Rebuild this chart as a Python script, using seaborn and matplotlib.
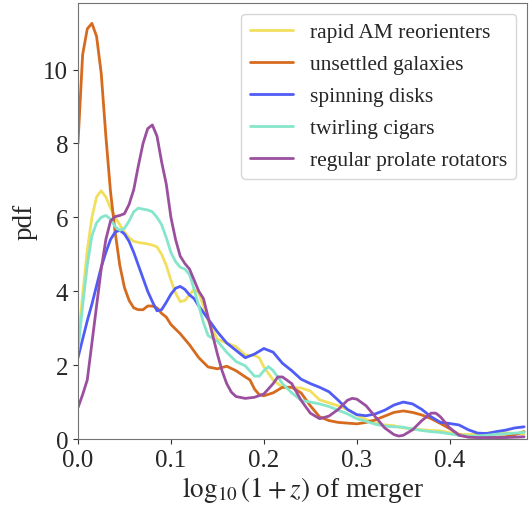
import numpy as np
import pandas as pd
import matplotlib
matplotlib.use("Agg")
import matplotlib.pyplot as plt
import seaborn as sns

# ---------------------------------------------------------------------------
# Data
# ---------------------------------------------------------------------------

CLASSES = [
    "rapid AM reorienters",
    "unsettled galaxies",
    "spinning disks",
    "twirling cigars",
    "regular prolate rotators",
]
COLORS = ["#f2df5e", "#d66b1f", "#4f5cf6", "#86e6cb", "#9b4f9f"]

x_yellow = [0, 0.005, 0.01, 0.015, 0.02, 0.025, 0.03, 0.035, 0.04, 0.045, 0.05, 0.055,
            0.06, 0.065, 0.07, 0.075, 0.08, 0.085, 0.09, 0.095, 0.10, 0.105, 0.11, 0.115,
            0.12, 0.125, 0.13, 0.135, 0.14, 0.15, 0.16, 0.17, 0.18, 0.19, 0.195, 0.20,
            0.21, 0.22, 0.23, 0.24, 0.25, 0.26, 0.27, 0.28, 0.29, 0.30, 0.31, 0.32, 0.33,
            0.34, 0.35, 0.36, 0.37, 0.38, 0.39, 0.40, 0.41, 0.42, 0.43, 0.44, 0.45, 0.46,
            0.47, 0.48]
pdf_yellow = [2.6, 3.9, 5.1, 6.0, 6.55, 6.72, 6.55, 6.25, 6.0, 5.8, 5.6, 5.45,
              5.35, 5.32, 5.3, 5.28, 5.25, 5.2, 5.0, 4.7, 4.3, 3.95, 3.72, 3.75,
              3.9, 4.05, 3.95, 3.6, 3.2, 2.7, 2.6, 2.5, 2.27, 2.26, 2.2, 1.95,
              1.6, 1.4, 1.4, 1.38, 1.3, 1.06, 0.98, 0.9, 0.8, 0.65, 0.53, 0.44, 0.38,
              0.36, 0.3, 0.27, 0.25, 0.23, 0.22, 0.17, 0.12, 0.12, 0.13, 0.16, 0.18, 0.17,
              0.15, 0.13]

x_orange = [0, 0.005, 0.01, 0.015, 0.02, 0.025, 0.03, 0.035, 0.04, 0.045, 0.05, 0.055,
            0.06, 0.065, 0.07, 0.075, 0.08, 0.085, 0.09, 0.095, 0.10, 0.11, 0.12, 0.13,
            0.14, 0.15, 0.16, 0.17, 0.18, 0.185, 0.19, 0.195, 0.20, 0.21, 0.22, 0.23,
            0.24, 0.25, 0.255, 0.26, 0.27, 0.28, 0.29, 0.30, 0.31, 0.32, 0.33, 0.34, 0.35,
            0.36, 0.37, 0.38, 0.39, 0.40, 0.41, 0.42, 0.43, 0.44, 0.45, 0.46, 0.47, 0.48]
pdf_orange = [8.0, 10.4, 11.1, 11.25, 10.9, 9.9, 8.2, 6.7, 5.6, 4.7, 4.1, 3.75,
              3.55, 3.5, 3.5, 3.6, 3.6, 3.55, 3.4, 3.3, 3.1, 2.85, 2.55, 2.2,
              1.95, 1.9, 1.97, 1.85, 1.68, 1.6, 1.35, 1.2, 1.17, 1.25, 1.4, 1.4,
              1.25, 0.9, 0.75, 0.6, 0.5, 0.45, 0.43, 0.41, 0.45, 0.52, 0.62, 0.72, 0.76,
              0.72, 0.65, 0.55, 0.42, 0.28, 0.12, 0.06, 0.05, 0.05, 0.05, 0.06, 0.12, 0.2]

x_blue = [0, 0.005, 0.01, 0.015, 0.02, 0.025, 0.03, 0.035, 0.04, 0.045, 0.05, 0.055,
          0.06, 0.065, 0.07, 0.075, 0.08, 0.085, 0.09, 0.095, 0.10, 0.105, 0.11, 0.115,
          0.12, 0.125, 0.13, 0.14, 0.15, 0.16, 0.17, 0.18, 0.19, 0.20, 0.21, 0.22,
          0.23, 0.24, 0.25, 0.26, 0.27, 0.28, 0.29, 0.30, 0.31, 0.32, 0.33, 0.34, 0.35,
          0.36, 0.37, 0.38, 0.39, 0.40, 0.41, 0.42, 0.43, 0.44, 0.45, 0.46, 0.47, 0.48]
pdf_blue = [2.2, 2.7, 3.2, 3.65, 4.15, 4.65, 5.05, 5.4, 5.6, 5.65, 5.55, 5.35,
            5.05, 4.7, 4.35, 4.0, 3.72, 3.47, 3.5, 3.7, 3.92, 4.08, 4.13, 4.05,
            3.9, 3.8, 3.6, 3.25, 2.9, 2.6, 2.4, 2.2, 2.3, 2.45, 2.35, 2.05,
            1.85, 1.62, 1.5, 1.4, 1.28, 1.05, 0.8, 0.66, 0.63, 0.68, 0.78, 0.92, 1.0,
            0.95, 0.8, 0.6, 0.45, 0.42, 0.38, 0.25, 0.16, 0.15, 0.2, 0.24, 0.3, 0.33]

x_teal = [0, 0.005, 0.01, 0.015, 0.02, 0.025, 0.03, 0.035, 0.04, 0.045, 0.05, 0.055,
          0.06, 0.065, 0.07, 0.075, 0.08, 0.085, 0.09, 0.095, 0.10, 0.105, 0.11, 0.115,
          0.12, 0.125, 0.13, 0.135, 0.14, 0.15, 0.16, 0.17, 0.18, 0.19, 0.195, 0.20,
          0.205, 0.21, 0.22, 0.23, 0.24, 0.25, 0.26, 0.27, 0.28, 0.29, 0.30, 0.31, 0.32,
          0.33, 0.34, 0.35, 0.36, 0.37, 0.38, 0.39, 0.40, 0.41, 0.42, 0.43, 0.44, 0.45,
          0.46, 0.47, 0.48]
pdf_teal = [2.4, 3.6, 4.7, 5.5, 5.85, 6.0, 6.05, 5.95, 5.75, 5.65, 5.7, 5.9,
            6.15, 6.25, 6.22, 6.2, 6.15, 6.0, 5.8, 5.45, 5.05, 4.8, 4.65, 4.6,
            4.45, 4.05, 3.6, 3.15, 2.8, 2.65, 2.35, 2.1, 1.98, 1.7, 1.7, 1.85,
            1.96, 1.85, 1.5, 1.25, 1.05, 1.0, 0.95, 0.88, 0.78, 0.68, 0.55, 0.48, 0.4,
            0.35, 0.33, 0.32, 0.27, 0.23, 0.2, 0.18, 0.14, 0.1, 0.08, 0.08, 0.1, 0.13,
            0.14, 0.16, 0.18]

x_purple = [0, 0.005, 0.01, 0.015, 0.02, 0.025, 0.03, 0.035, 0.04, 0.045, 0.05, 0.055,
            0.06, 0.065, 0.07, 0.075, 0.08, 0.085, 0.09, 0.095, 0.10, 0.105, 0.11, 0.115,
            0.12, 0.125, 0.13, 0.135, 0.14, 0.145, 0.15, 0.155, 0.16, 0.165, 0.17, 0.18,
            0.19, 0.20, 0.21, 0.215, 0.22, 0.23, 0.24, 0.25, 0.26, 0.27, 0.28, 0.29, 0.295,
            0.30, 0.31, 0.32, 0.33, 0.34, 0.345, 0.35, 0.36, 0.37, 0.38, 0.385, 0.39, 0.40,
            0.41, 0.42, 0.43, 0.44, 0.45, 0.46, 0.47, 0.48]
pdf_purple = [0.85, 1.2, 1.6, 2.6, 3.6, 4.6, 5.4, 5.9, 6.02, 6.05, 6.1, 6.35,
              6.75, 7.4, 8.0, 8.4, 8.5, 8.2, 7.5, 6.9, 6.0, 5.4, 4.95, 4.75,
              4.6, 4.3, 4.0, 3.8, 3.3, 2.8, 2.3, 1.85, 1.5, 1.27, 1.15, 1.1,
              1.13, 1.22, 1.5, 1.68, 1.68, 1.5, 1.05, 0.7, 0.55, 0.62, 0.8, 1.05, 1.1,
              1.08, 0.9, 0.6, 0.3, 0.12, 0.08, 0.1, 0.25, 0.5, 0.7, 0.7, 0.6, 0.3,
              0.1, 0.05, 0.04, 0.04, 0.04, 0.04, 0.05, 0.06]

X_TICKS = [0.0, 0.1, 0.2, 0.3, 0.4]
Y_TICKS = [0, 2, 4, 6, 8, 10]

# ---------------------------------------------------------------------------
# Long-form table for seaborn
# ---------------------------------------------------------------------------
series = [
    (x_yellow, pdf_yellow),
    (x_orange, pdf_orange),
    (x_blue, pdf_blue),
    (x_teal, pdf_teal),
    (x_purple, pdf_purple),
]
frames = []
for name, (xs, ys) in zip(CLASSES, series):
    frames.append(pd.DataFrame({"z": xs, "pdf": ys, "class": name}))
df = pd.concat(frames, ignore_index=True)

# ---------------------------------------------------------------------------
# Plot
# ---------------------------------------------------------------------------
sns.set_style("ticks")
plt.rcParams["font.family"] = ["Liberation Serif", "DejaVu Serif"]
plt.rcParams["mathtext.fontset"] = "stix"
plt.rcParams["axes.edgecolor"] = "0.45"

fig = plt.figure(figsize=(5.29, 5.06), dpi=100)
ax = fig.add_axes([0.1474, 0.1304, 0.8486, 0.8616])

sns.lineplot(data=df, x="z", y="pdf", hue="class", hue_order=CLASSES,
             palette=COLORS, estimator=None, sort=False, linewidth=2, ax=ax)

ax.set_xlim(0, 0.483)
ax.set_ylim(0, 11.8)
ax.set_xticks(X_TICKS)
ax.set_yticks(Y_TICKS)
ax.tick_params(labelsize=18, color="0.2")
ax.set_xlabel(r"$\log_{10}(1+z)$ of merger", fontsize=19.5, labelpad=2)
ax.set_ylabel("pdf", fontsize=19.5)

leg = ax.legend(loc="upper right", fontsize=15.5, frameon=True,
                borderaxespad=0.5, handlelength=2.0, labelspacing=0.55)
leg.get_frame().set_edgecolor("0.8")

fig.savefig("out.png", dpi=100)
